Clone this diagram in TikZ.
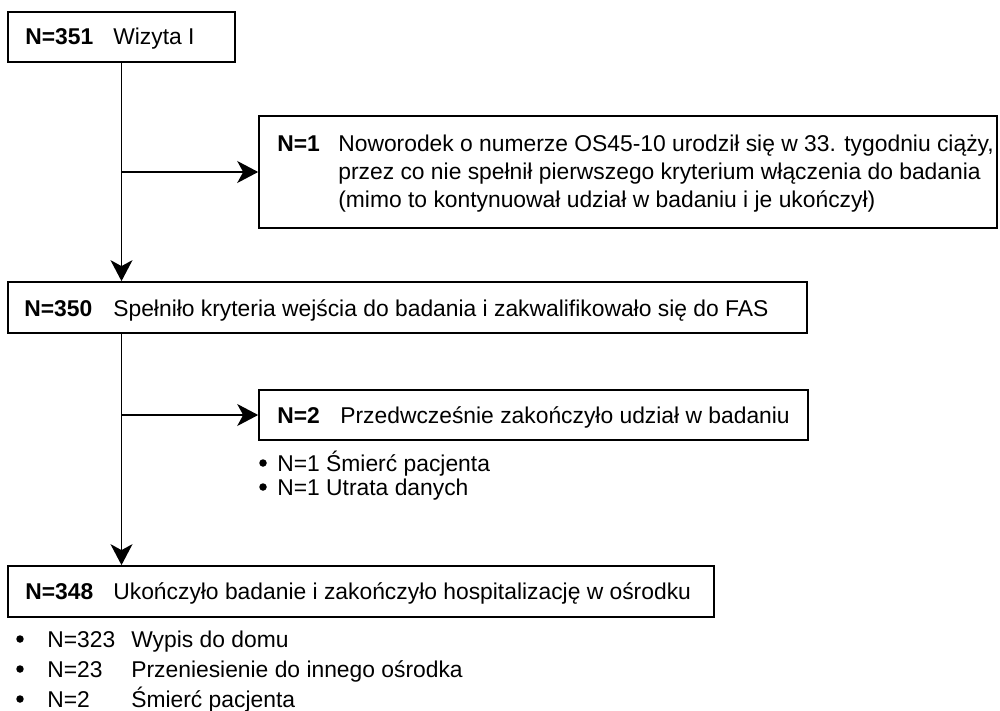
\documentclass[tikz,border=0pt]{standalone}
\usepackage{fontspec}
\setmainfont{Liberation Sans}
\usetikzlibrary{arrows.meta}
\begin{document}
\begin{tikzpicture}[x=0.02cm,y=-0.02cm,
  box/.style={draw=black, line width=1pt, inner sep=0pt, rectangle},
  lbl/.style={anchor=base west, inner sep=0pt, font=\fontsize{13.0}{15}\selectfont},
  conn/.style={line width=0.8pt, -{Stealth[length=0.42cm,width=0.44cm,inset=0.12cm]}},
  dot/.style={circle, fill=black, inner sep=0pt, minimum size=0.15cm}
]
\useasboundingbox (0,0) rectangle (1000,710);
% boxes
\node[box, minimum width=4.54cm, minimum height=1.0cm] (b1) at (121.5,37) {};
\node[box, minimum width=14.76cm, minimum height=2.24cm] (b2) at (628,172) {};
\node[box, minimum width=15.98cm, minimum height=1.02cm] (b3) at (407.5,307.5) {};
\node[box, minimum width=10.98cm, minimum height=1.0cm] (b5) at (533.5,415) {};
\node[box, minimum width=14.12cm, minimum height=1.02cm] (b4) at (361,591.5) {};
% box texts
\node[lbl] (t1a) at (25,44.5) {\textbf{N=351}};
\node[lbl] (t1b) at (113,44.5) {Wizyta I};
\node[lbl] (t2a) at (277,151) {\textbf{N=1}};
\node[lbl] (t2b) at (338,151) {Noworodek o numerze OS45-10 urodził się w 33. tygodniu ciąży,};
\node[lbl] (t2c) at (338,179) {przez co nie spełnił pierwszego kryterium włączenia do badania};
\node[lbl] (t2d) at (338,207) {(mimo to kontynuował udział w badaniu i je ukończył)};
\node[lbl] (t3a) at (24,316) {\textbf{N=350}};
\node[lbl] (t3b) at (113,316) {Spełniło kryteria wejścia do badania i zakwalifikowało się do FAS};
\node[lbl] (t5a) at (277,423) {\textbf{N=2}};
\node[lbl] (t5b) at (340,423) {Przedwcześnie zakończyło udział w badaniu};
\node[lbl] (t4a) at (25,599) {\textbf{N=348}};
\node[lbl] (t4b) at (113,599) {Ukończyło badanie i zakończyło hospitalizację w ośrodku};
% bullet lists
\node[dot] (d51) at (263,463) {};
\node[lbl] (l51) at (277,471) {N=1 Śmierć pacjenta};
\node[dot] (d52) at (263,487) {};
\node[lbl] (l52) at (277,495) {N=1 Utrata danych};
\node[dot] (d41) at (20,639) {};
\node[lbl] (l41a) at (47,647) {N=323};
\node[lbl] (l41b) at (131,647) {Wypis do domu};
\node[dot] (d42) at (20,669) {};
\node[lbl] (l42a) at (47,677) {N=23};
\node[lbl] (l42b) at (131,677) {Przeniesienie do innego ośrodka};
\node[dot] (d43) at (20,699) {};
\node[lbl] (l43a) at (47,707) {N=2};
\node[lbl] (l43b) at (131,707) {Śmierć pacjenta};
% connectors
\draw[conn] (b1.south) -- (b1.south |- b3.north);
\draw[conn] (b1.south |- b2.west) -- (b2.west);
\draw[conn] (b1.south |- b3.south) -- (b1.south |- b4.north);
\draw[conn] (b1.south |- b5.west) -- (b5.west);
\end{tikzpicture}
\end{document}
